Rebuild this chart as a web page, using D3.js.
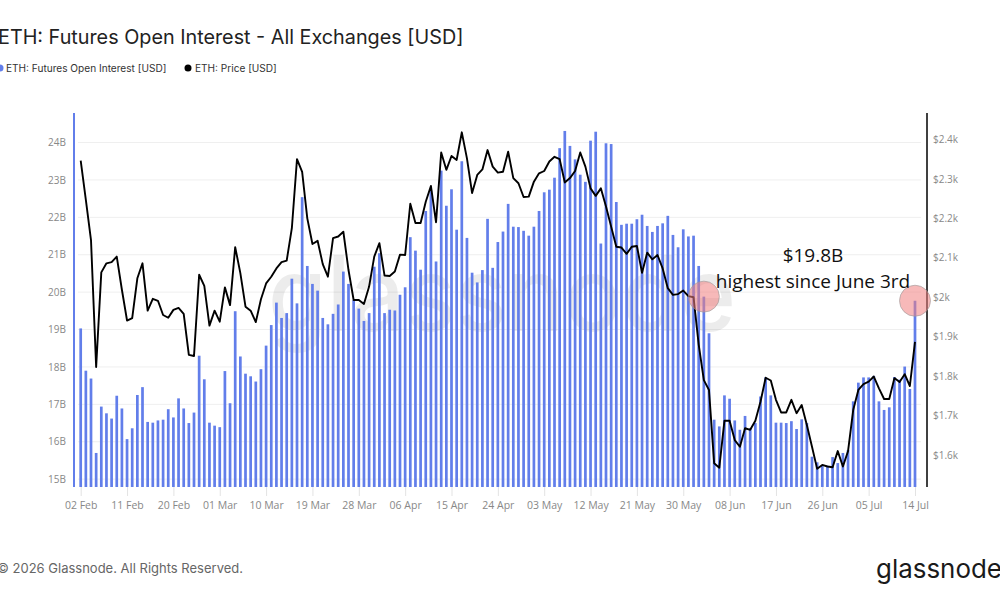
<!DOCTYPE html>
<html>
<head>
<meta charset="utf-8">
<script src="https://cdn.jsdelivr.net/npm/d3@7"></script>
<style>
  html, body { margin: 0; padding: 0; background: #fff; }
  svg { display: block; }
</style>
</head>
<body>
<div id="chart"></div>
<script>
// canvas size
const width = 1000
const height = 600

// data, one value per day from 02 Feb to 14 Jul
const startDay = "2026-02-02"
const openInterest = [
  19.03, 17.90, 17.69, 15.70, 16.94, 16.76, 16.62, 17.23, 16.89, 16.07,
  16.36, 17.25, 17.46, 16.53, 16.51, 16.57, 16.59, 16.87, 16.65, 17.16,
  16.89, 16.50, 16.78, 18.30, 17.67, 16.51, 16.43, 16.39, 17.89, 17.03,
  19.49, 18.28, 17.82, 17.75, 17.61, 17.94, 18.57, 19.12, 19.72, 19.31,
  19.44, 20.36, 19.70, 22.54, 20.70, 20.22, 20.04, 19.31, 19.14, 19.42,
  19.67, 20.55, 20.22, 19.79, 19.56, 19.23, 19.44, 20.68, 21.04, 19.44,
  19.53, 19.51, 19.93, 20.13, 21.47, 21.11, 20.60, 22.17, 22.72, 20.82,
  23.25, 22.31, 22.75, 21.67, 23.50, 21.45, 20.52, 20.26, 20.59, 21.96,
  20.65, 21.34, 21.62, 22.36, 21.75, 21.74, 21.64, 21.51, 21.75, 22.17,
  22.67, 22.74, 23.06, 23.85, 24.31, 23.91, 23.55, 23.14, 22.95, 24.05,
  24.29, 21.30, 23.98, 23.96, 22.41, 21.80, 21.83, 21.83, 21.95, 22.07,
  21.77, 21.61, 21.77, 21.84, 22.04, 21.53, 21.20, 21.68, 21.49, 21.51,
  20.70, 19.88, 18.90, 16.59, 16.41, 17.24, 17.15, 16.57, 16.32, 16.69,
  16.36, 16.50, 17.21, 17.72, 17.24, 16.51, 16.51, 16.50, 16.55, 16.34,
  16.60, 16.50, 15.60, 15.45, 15.38, 15.36, 15.59, 15.43, 15.70, 15.78,
  17.08, 17.58, 17.72, 17.72, 17.76, 17.08, 16.85, 16.92, 17.73, 17.66,
  18.01, 17.41, 19.77
]
const price = [
  2346, 2247, 2145, 1823, 2063, 2086, 2089, 2103, 2019, 1941,
  1947, 2048, 2086, 1966, 1996, 1991, 1955, 1948, 1968, 1973,
  1958, 1854, 1851, 2057, 2029, 1928, 1966, 1938, 2025, 1980,
  2127, 2061, 1976, 1966, 1937, 1995, 2035, 2052, 2073, 2089,
  2093, 2175, 2350, 2318, 2200, 2135, 2143, 2084, 2052, 2150,
  2154, 2166, 2069, 1993, 1993, 1983, 2027, 2103, 2137, 2055,
  2054, 2065, 2108, 2107, 2237, 2188, 2188, 2242, 2282, 2190,
  2367, 2323, 2358, 2348, 2418, 2352, 2264, 2310, 2324, 2373,
  2331, 2316, 2318, 2369, 2302, 2289, 2254, 2255, 2293, 2314,
  2320, 2344, 2356, 2350, 2291, 2302, 2320, 2367, 2331, 2276,
  2257, 2276, 2230, 2179, 2128, 2126, 2110, 2128, 2130, 2062,
  2113, 2096, 2107, 2073, 2023, 2006, 2008, 2017, 2003, 2000,
  1880, 1790, 1765, 1579, 1568, 1687, 1687, 1638, 1621, 1668,
  1664, 1687, 1735, 1796, 1789, 1740, 1708, 1708, 1740, 1706,
  1727, 1676, 1621, 1565, 1575, 1571, 1569, 1610, 1571, 1610,
  1714, 1765, 1780, 1786, 1799, 1769, 1742, 1742, 1795, 1785,
  1805, 1775, 1887
]
const oiTicks = [15, 16, 17, 18, 19, 20, 21, 22, 23, 24]
const priceTicks = [1600, 1700, 1800, 1900, 2000, 2100, 2200, 2300, 2400]
// annotated days (index into the arrays)
const marked = [121, 162]
const noteLines = ["$19.8B", "highest since June 3rd"]

const day0 = new Date(startDay + "T00:00:00Z")
const days = openInterest.map((v, i) => d3.utcDay.offset(day0, i))

const blue = "#627EEA"
const plotTop = 113, plotBottom = 487

var x = d3.scaleUtc()
  .domain([days[0], days[days.length - 1]])
  .range([80.7, 915])

var yOI = d3.scaleLinear().domain([14.79, 24.79]).range([plotBottom, plotTop])
var yPrice = d3.scaleLinear().domain([1519, 2467]).range([plotBottom, plotTop])

var svg = d3.select("#chart").append("svg")
  .attr("width", width)
  .attr("height", height)
  .style("font-family", "Inter, 'Open Sans', sans-serif")

// title + legend
svg.append("text")
  .attr("x", -2).attr("y", 44)
  .attr("font-size", 19.8).attr("fill", "#222")
  .text("ETH: Futures Open Interest - All Exchanges [USD]")

svg.append("circle").attr("cx", 0).attr("cy", 68).attr("r", 3.5).attr("fill", blue)
svg.append("text").attr("x", 6).attr("y", 71.5)
  .attr("font-size", 10.1).attr("fill", "#333")
  .text("ETH: Futures Open Interest [USD]")
svg.append("circle").attr("cx", 188).attr("cy", 68).attr("r", 3.5).attr("fill", "#000")
svg.append("text").attr("x", 195).attr("y", 71.5)
  .attr("font-size", 10.1).attr("fill", "#333")
  .text("ETH: Price [USD]")

// grid
svg.append("g")
  .selectAll("line")
  .data(oiTicks)
  .enter().append("line")
  .attr("x1", 78).attr("x2", 921)
  .attr("y1", d => yOI(d)).attr("y2", d => yOI(d))
  .attr("stroke", "#efefef").attr("stroke-width", 1)

// watermark
svg.append("text")
  .attr("x", 268).attr("y", 331)
  .attr("font-size", 104).attr("font-weight", 500)
  .attr("textLength", 468).attr("lengthAdjust", "spacingAndGlyphs")
  .attr("fill", "#000").attr("fill-opacity", 0.075)
  .text("glassnode")

// bars
svg.append("g")
  .selectAll("rect")
  .data(openInterest)
  .enter().append("rect")
  .attr("x", (d, i) => x(days[i]) - 1.35)
  .attr("width", 2.7)
  .attr("y", d => yOI(d))
  .attr("height", d => plotBottom - yOI(d))
  .attr("fill", blue)

// price line
var line = d3.line()
  .x((d, i) => x(days[i]))
  .y(d => yPrice(d))

svg.append("path")
  .datum(price)
  .attr("d", line)
  .attr("fill", "none")
  .attr("stroke", "#000")
  .attr("stroke-width", 1.9)
  .attr("stroke-linejoin", "round")

// left axis
var leftAxis = svg.append("g")
  .attr("transform", "translate(74,0)")
  .call(d3.axisLeft(yOI).tickValues(oiTicks).tickSize(0).tickPadding(8).tickFormat(d => d + "B"))
leftAxis.select(".domain").remove()
leftAxis.selectAll("text").attr("font-size", 10).attr("fill", "#888")
  .style("font-family", "'Open Sans', sans-serif")
svg.append("line")
  .attr("x1", 74).attr("x2", 74).attr("y1", plotTop).attr("y2", plotBottom)
  .attr("stroke", blue).attr("stroke-width", 2)

// right axis
var rightAxis = svg.append("g")
  .attr("transform", "translate(927,0)")
  .call(d3.axisRight(yPrice).tickValues(priceTicks).tickSize(0).tickPadding(6)
    .tickFormat(d => d % 1000 === 0 ? "$" + d / 1000 + "k" : "$" + (d / 1000).toFixed(1) + "k"))
rightAxis.select(".domain").remove()
rightAxis.selectAll("text").attr("font-size", 10).attr("fill", "#888")
  .style("font-family", "'Open Sans', sans-serif")
svg.append("line")
  .attr("x1", 927).attr("x2", 927).attr("y1", plotTop).attr("y2", plotBottom)
  .attr("stroke", "#000").attr("stroke-width", 1.5)

// x axis
var xAxis = svg.append("g")
  .attr("transform", "translate(0," + plotBottom + ")")
  .call(d3.axisBottom(x)
    .tickValues(d3.utcDay.range(days[0], d3.utcDay.offset(days[days.length - 1], 1), 9))
    .tickSize(9).tickPadding(6)
    .tickFormat(d3.utcFormat("%d %b")))
xAxis.select(".domain").remove()
xAxis.selectAll("line").attr("stroke", "#e3e3e3")
xAxis.selectAll("text").attr("font-size", 10.5).attr("fill", "#888")
  .style("font-family", "'Open Sans', sans-serif")

// annotation circles
svg.append("g")
  .selectAll("circle")
  .data(marked)
  .enter().append("circle")
  .attr("cx", i => x(days[i]))
  .attr("cy", i => yOI(openInterest[i]))
  .attr("r", 15.5)
  .attr("fill", "#f08080").attr("fill-opacity", 0.55)
  .attr("stroke", "#999").attr("stroke-opacity", 0.6)

svg.append("g")
  .selectAll("text")
  .data(noteLines)
  .enter().append("text")
  .attr("x", 813)
  .attr("y", (d, i) => 262 + i * 26)
  .attr("text-anchor", "middle")
  .attr("font-size", 19)
  .attr("fill", "#111")
  .style("font-family", "'Open Sans', sans-serif")
  .text(d => d)

// footer
svg.append("text")
  .attr("x", -3).attr("y", 573)
  .attr("font-size", 13).attr("fill", "#666")
  .text("\u00a9 2026 Glassnode. All Rights Reserved.")
svg.append("text")
  .attr("x", 876).attr("y", 578)
  .attr("font-size", 26).attr("font-weight", 400)
  .attr("textLength", 126).attr("lengthAdjust", "spacingAndGlyphs")
  .attr("fill", "#1a1a1a")
  .text("glassnode")
</script>
</body>
</html>
